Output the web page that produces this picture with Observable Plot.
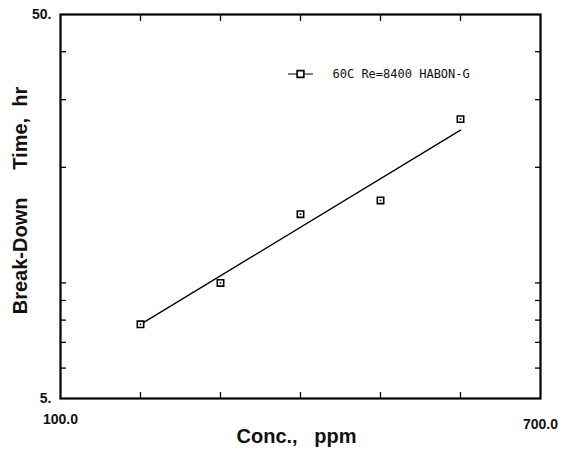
<!DOCTYPE html>
<html>
<head>
<meta charset="utf-8">
<script src="https://cdn.jsdelivr.net/npm/d3@7"></script>
<script src="https://cdn.jsdelivr.net/npm/@observablehq/plot@0.6"></script>
<style>
  body { margin: 0; background: #fff; }
  svg { font-family: "Liberation Sans", Arial, sans-serif; }
</style>
</head>
<body>
<div id="chart"></div>
<script>
// Data
const conc = [200, 300, 400, 500, 600];          // ppm
const breakdownTime = [7.8, 10.0, 15.1, 16.4, 26.7]; // hr
const fitConc = [200, 600];
const fitTime = [7.8, 25.0];
const xTicks = [200, 300, 400, 500, 600];
const yTicks = [6, 7, 8, 9, 10, 20, 30, 40];
const xEndLabels = [100, 700];
const yEndLabels = [5, 50];
const legendLabel = "60C Re=8400 HABON-G";
const legendPos = {x1: 385, x2: 415, xs: 400, xt: 440, y: 35};
const xTitle = "Conc.,\u00a0\u00a0\u00a0ppm";
const yTitle = "Break-Down\u00a0\u00a0\u00a0\u00a0\u00a0Time,\u00a0\u00a0hr";

const points = conc.map((c, i) => ({c, t: breakdownTime[i]}));
const fit = fitConc.map((c, i) => ({c, t: fitTime[i]}));

const chart = Plot.plot({
  width: 561,
  height: 457,
  marginLeft: 60,
  marginRight: 21,
  marginTop: 14,
  marginBottom: 59,
  x: {domain: [100, 700]},
  y: {type: "log", domain: [5, 50]},
  marks: [
    Plot.frame({stroke: "#000", strokeWidth: 2.2}),
    // inward ticks
    Plot.axisX(xTicks, {anchor: "bottom", tickSize: -6, tickFormat: () => "", label: null, strokeWidth: 1.3}),
    Plot.axisX(xTicks, {anchor: "top", tickSize: -6, tickFormat: () => "", label: null, strokeWidth: 1.3}),
    Plot.axisY(yTicks, {anchor: "left", tickSize: -6, tickFormat: () => "", label: null, strokeWidth: 1.3}),
    Plot.axisY(yTicks, {anchor: "right", tickSize: -6, tickFormat: () => "", label: null, strokeWidth: 1.3}),
    // end labels
    Plot.axisX([xEndLabels[0]], {anchor: "bottom", tickSize: 0, tickPadding: 16, tickFormat: d => d3.format(".1f")(d), label: null, fontSize: 14, fontWeight: "bold", fill: "#111", style: "letter-spacing:1.2px"}),
    Plot.axisX([xEndLabels[1]], {anchor: "bottom", tickSize: 0, tickPadding: 21, tickFormat: d => d3.format(".1f")(d), label: null, fontSize: 14, fontWeight: "bold", fill: "#111", style: "letter-spacing:1.2px"}),
    Plot.axisY(yEndLabels, {anchor: "left", tickSize: 0, tickPadding: 9, tickFormat: d => d + ".", label: null, fontSize: 14, fontWeight: "bold", fill: "#111", style: "letter-spacing:2px"}),
    // axis titles
    Plot.text([xTitle], {frameAnchor: "bottom", textAnchor: "middle", lineAnchor: "middle", dy: 38, dx: -4, fontSize: 20, fontWeight: "bold", fill: "#111", style: "letter-spacing:2px"}),
    Plot.text([yTitle], {frameAnchor: "left", textAnchor: "middle", lineAnchor: "middle", dx: -40, dy: -6, rotate: -90, fontSize: 20, fontWeight: "bold", fill: "#111", style: "letter-spacing:2px"}),
    // fit line
    Plot.line(fit, {x: "c", y: "t", stroke: "#000", strokeWidth: 1.4}),
    // data points
    Plot.dot(points, {x: "c", y: "t", symbol: "square", r: 3.6, stroke: "#000", strokeWidth: 1.6, fill: "#fff"}),
    Plot.dot(points, {x: "c", y: "t", symbol: "square", r: 0.9, fill: "#000"}),
    // legend
    Plot.line([{c: legendPos.x1, t: legendPos.y}, {c: legendPos.x2, t: legendPos.y}], {x: "c", y: "t", stroke: "#000", strokeWidth: 1.2}),
    Plot.dot([{c: legendPos.xs, t: legendPos.y}], {x: "c", y: "t", symbol: "square", r: 3.8, stroke: "#000", strokeWidth: 1.6, fill: "#fff"}),
    Plot.text([{c: legendPos.xt, t: legendPos.y, s: legendLabel}], {x: "c", y: "t", text: "s", textAnchor: "start", fontSize: 12, fontFamily: "DejaVu Sans Mono", fill: "#111"})
  ]
});
document.getElementById("chart").appendChild(chart);
</script>
</body>
</html>
